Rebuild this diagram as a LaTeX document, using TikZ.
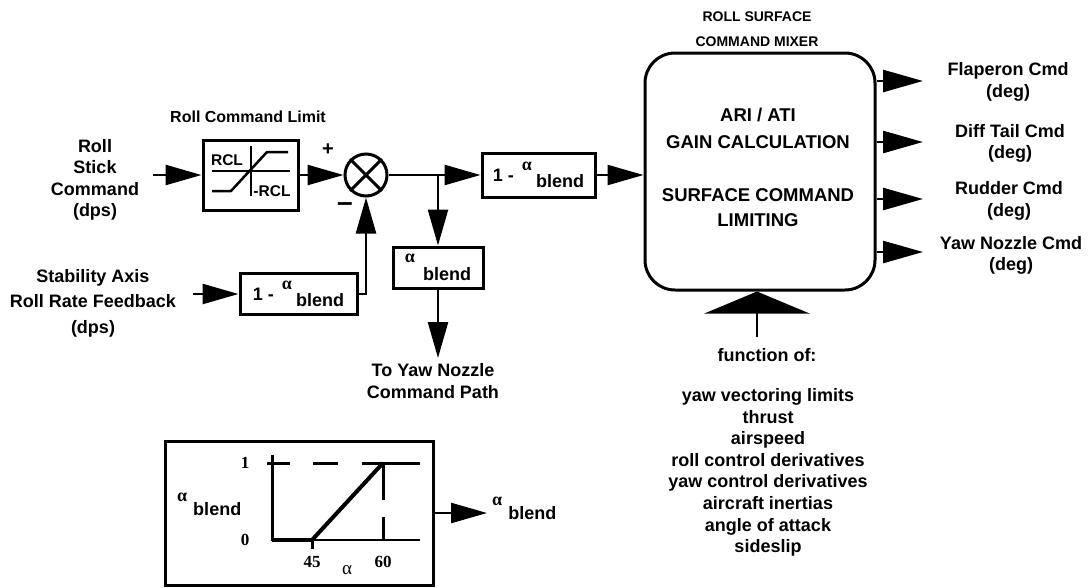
\documentclass[tikz,border=0pt]{standalone}
\usepackage{fontspec}
\setmainfont{Liberation Sans}
\newfontfamily\seriffont{Liberation Serif}
\usetikzlibrary{arrows.meta,calc}
\newcommand\alp{{\seriffont\fontsize{18}{18}\selectfont α}}
\begin{document}
\begin{tikzpicture}[x=1pt,y=-1pt,
  txt/.style={font=\bfseries\fontsize{18}{21.5}\selectfont, align=center, inner sep=0pt},
  blk/.style={draw, line width=3pt, inner sep=0pt, font=\bfseries\fontsize{18}{21.5}\selectfont},
  arr/.style={line width=2.5pt, -{Triangle[length=36pt,width=20pt]}},
  arrout/.style={line width=2.5pt, -{Triangle[length=40pt,width=22pt]}},
  ln/.style={line width=2.5pt},
  num/.style={font=\seriffont\bfseries\fontsize{17}{17}\selectfont, inner sep=0pt},
  small/.style={font=\bfseries\fontsize{15.5}{15.5}\selectfont, inner sep=0pt}
]
\useasboundingbox (0,0) rectangle (1089,587);

% Roll stick input
\node[txt] (rsc) at (95,180) {Roll\\Stick\\Command\\(dps)};
\coordinate (rscin) at (153,175);
\node[blk, minimum width=95, minimum height=70] (rcl) at (250.5,175) {};
\draw[arr] (rscin) -- (rcl.west);
\node[txt, font=\bfseries\fontsize{16}{16}\selectfont] (rcllbl) at (248,117) {Roll Command Limit};
% limiter graph
\draw[ln] (251,146) -- (251,196);
\draw[ln] (212,171) -- (290,171);
\draw[ln, line join=round] (212,191) -- (231,191) -- (267,152) -- (288,152);
\node[small] (rclp) at (227,160) {RCL};
\node[small] (rclm) at (272,191) {-RCL};

% summing junction
\node[draw, circle, line width=3pt, minimum size=42, inner sep=0pt] (sum) at (366,175) {};
\draw[line width=3pt] (sum.north east) -- (sum.south west);
\draw[line width=3pt] (sum.north west) -- (sum.south east);
\draw[arr] (rcl.east) -- (sum.west);
\node[txt, font=\bfseries\fontsize{20}{20}\selectfont] (plus) at (328,150) {+};
\node[txt, font=\bfseries\fontsize{28}{28}\selectfont] (minus) at (345,207) {–};

% forward path
\coordinate (br) at (438,175);
\draw[ln] (sum.east) -- (br);
\node[blk, minimum width=113, minimum height=44] (b1) at (538.5,175)
  {1 -\hspace{8pt}\raisebox{11pt}{\alp}\hspace{4pt}\raisebox{-6pt}{blend}};
\draw[arr] (br) -- (b1.west);

\node[blk, minimum width=90, minimum height=41] (b2) at (438,267.5)
  {\raisebox{18pt}{\alp}\hspace{8pt}blend};
\draw[arr] (br) -- (b2.north);
\coordinate (yn) at (438,358);
\draw[arr] (b2.south) -- (yn);
\node[txt] (ynt) at (433,381) {To Yaw Nozzle\\Command Path};

% feedback
\node[txt, font=\bfseries\fontsize{18}{25.5}\selectfont] (sal) at (93,303) {Stability Axis\\Roll Rate Feedback\\(dps)};
\coordinate (sain) at (193,294);
\node[blk, minimum width=117, minimum height=41] (b3) at (298.5,294)
  {1 -\hspace{8pt}\raisebox{11pt}{\alp}\hspace{4pt}\raisebox{-6pt}{blend}};
\draw[arr] (sain) -- (b3.west);
\draw[arr] (b3.east) -| (sum.south);

% mixer
\node[draw, line width=3pt, rounded corners=30pt, minimum width=230, minimum height=237] (m) at (760,171.5) {};
\draw[arr] (b1.east) -- (m.west |- b1.east);
\node[font=\bfseries\fontsize{14}{25}\selectfont, align=center, inner sep=0pt] (mt) at (757,29.5) {ROLL SURFACE\\COMMAND MIXER};
\node[txt, font=\bfseries\fontsize{18.5}{27}\selectfont] (mi1) at (758,128.5) {ARI / ATI\\GAIN CALCULATION};
\node[txt, font=\bfseries\fontsize{18.5}{25}\selectfont] (mi2) at (758,207.5) {SURFACE COMMAND\\LIMITING};

% outputs
\coordinate (o1) at (923,81);
\coordinate (o2) at (923,142);
\coordinate (o3) at (923,199);
\coordinate (o4) at (923,252);
\draw[arrout] (m.east |- o1) -- (o1);
\draw[arrout] (m.east |- o2) -- (o2);
\draw[arrout] (m.east |- o3) -- (o3);
\draw[arrout] (m.east |- o4) -- (o4);
\node[txt] (l1) at (1008,82) {Flaperon Cmd\\(deg)};
\node[txt] (l2) at (1010,143.5) {Diff Tail Cmd\\(deg)};
\node[txt] (l3) at (1009,201) {Rudder Cmd\\(deg)};
\node[txt] (l4) at (1011,255.5) {Yaw Nozzle Cmd\\(deg)};

% function of
\coordinate (fo) at (757,337);
\draw[line width=2.5pt, -{Triangle[length=22pt,width=105pt]}] (fo) -- (fo |- m.south);
\node[txt] (fol) at (767,355) {function of:};
\node[txt, font=\bfseries\fontsize{18}{21.6}\selectfont] (fl) at (768,472.5)
  {yaw vectoring limits\\thrust\\airspeed\\roll control derivatives\\yaw control derivatives\\aircraft inertias\\angle of attack\\sideslip};

% schedule box
\node[draw, line width=3pt, minimum width=268, minimum height=144, inner sep=0pt] (g) at (299,513) {};
\draw[line width=3pt] (272,455) -- (272,541);
\draw[ln] (272,540) -- (420,540);
\draw[line width=4.5pt] (272,540) -- (312,540);
\draw[line width=4pt] (312,540) -- (383,463);
\draw[line width=3pt] (267,463) -- (290,463);
\draw[line width=3pt] (313,463) -- (338,463);
\draw[line width=3pt] (362,463) -- (420,463);
\draw[line width=3pt] (383,463) -- (383,500);
\draw[line width=3pt] (383,517) -- (383,540);
\draw[line width=3pt] (312,540) -- (312,549);
\node[num] (n1) at (245,463) {1};
\node[num] (n0) at (245,540) {0};
\node[num] (n45) at (312,562) {45};
\node[num] (n60) at (383,562) {60};
\node[num, font=\seriffont\fontsize{19}{19}\selectfont] (na) at (347,570) {α};
\node[txt, anchor=west] (gab) at (177,504) {\raisebox{14pt}{\alp}\hspace{6pt}blend};
\coordinate (gout) at (487,513);
\draw[arr] (g.east) -- (gout);
\node[txt, anchor=west] (oab) at (492,508) {\raisebox{14pt}{\alp}\hspace{6pt}blend};
\end{tikzpicture}
\end{document}
